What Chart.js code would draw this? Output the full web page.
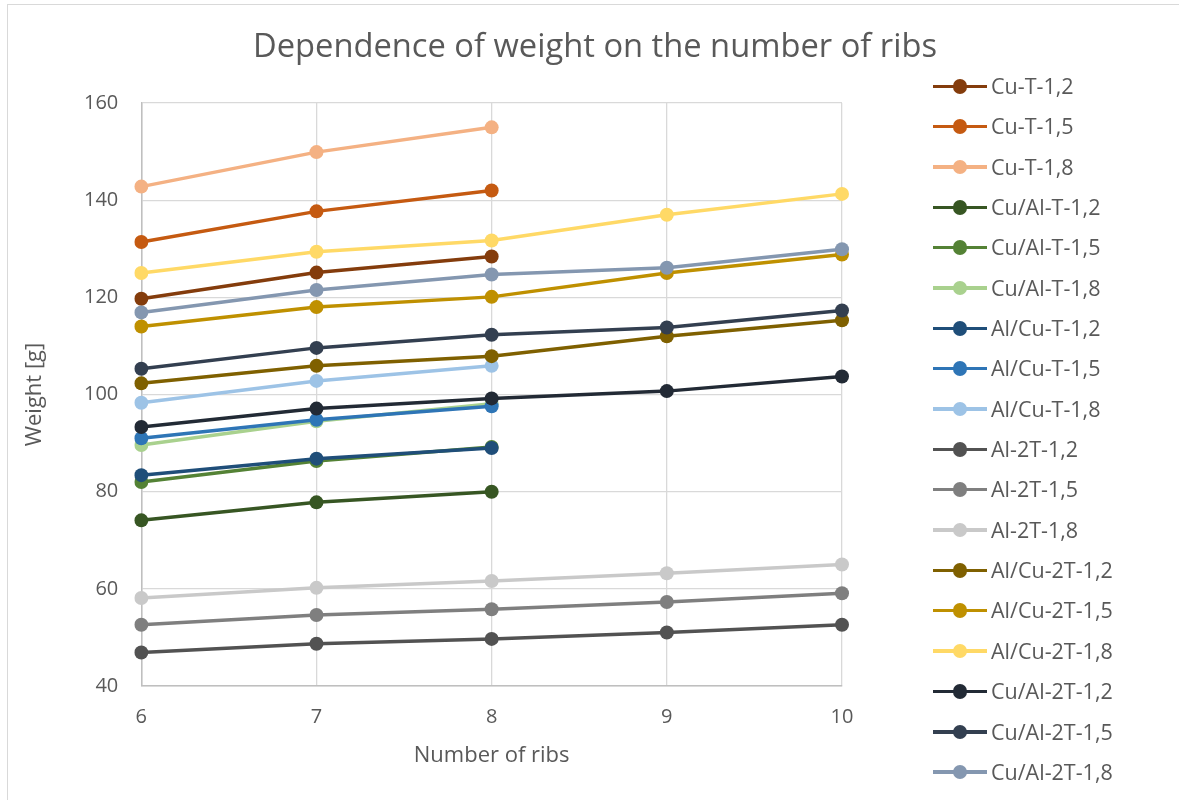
<!DOCTYPE html>
<html lang="en">
    <head>
        <meta charset="UTF-8" />
        <title>Dependence of weight on the number of ribs</title>
        <script src="https://cdn.jsdelivr.net/npm/chart.js"></script>
        <style>
            body { margin: 0; background: #fff; }
            .wrap { position: relative; width: 1179px; height: 800px; overflow: hidden; }
            .frame {
                position: absolute; left: 7px; top: 4px; width: 1200px; height: 830px;
                border: 1px solid #d9d9d9; pointer-events: none;
            }
            #chartLegend {
                position: absolute; left: 933px; top: 66px;
                font-family: "Open Sans", sans-serif; font-size: 21.5px; color: #595959;
            }
            #chartLegend .item { position: relative; height: 40.35px; line-height: 40px; padding-left: 58px; white-space: nowrap; }
            #chartLegend .line { position: absolute; left: 0; top: 18.5px; width: 54px; height: 3.5px; }
            #chartLegend .dot { position: absolute; left: 19.5px; top: 13px; width: 14.5px; height: 14.5px; border-radius: 50%; }
        </style>
    </head>
    <body>
        <div class="wrap">
            <canvas id="ribsChart" width="1179" height="800"></canvas>
            <div id="chartLegend"></div>
            <div class="frame"></div>
        </div>

        <script>
            // number of ribs
            const ribs = ['6', '7', '8', '9', '10'];

            const seriesNames = [
                'Cu-T-1,2', 'Cu-T-1,5', 'Cu-T-1,8',
                'Cu/Al-T-1,2', 'Cu/Al-T-1,5', 'Cu/Al-T-1,8',
                'Al/Cu-T-1,2', 'Al/Cu-T-1,5', 'Al/Cu-T-1,8',
                'Al-2T-1,2', 'Al-2T-1,5', 'Al-2T-1,8',
                'Al/Cu-2T-1,2', 'Al/Cu-2T-1,5', 'Al/Cu-2T-1,8',
                'Cu/Al-2T-1,2', 'Cu/Al-2T-1,5', 'Cu/Al-2T-1,8'
            ];

            // weight [g]
            const cuT12 = [119.7, 125.1, 128.4];
            const cuT15 = [131.4, 137.7, 142.0];
            const cuT18 = [142.8, 149.9, 155.0];
            const cuAlT12 = [74.1, 77.8, 80.0];
            const cuAlT15 = [82.0, 86.3, 89.2];
            const cuAlT18 = [89.6, 94.5, 98.1];
            const alCuT12 = [83.4, 86.8, 89.0];
            const alCuT15 = [91.0, 94.8, 97.6];
            const alCuT18 = [98.3, 102.8, 105.9];
            const al2T12 = [46.9, 48.7, 49.7, 51.0, 52.6];
            const al2T15 = [52.6, 54.6, 55.8, 57.3, 59.1];
            const al2T18 = [58.1, 60.2, 61.6, 63.2, 65.0];
            const alCu2T12 = [102.3, 105.9, 107.9, 112.0, 115.3];
            const alCu2T15 = [114.0, 118.0, 120.1, 125.0, 128.8];
            const alCu2T18 = [125.0, 129.4, 131.7, 137.0, 141.3];
            const cuAl2T12 = [93.3, 97.1, 99.2, 100.7, 103.7];
            const cuAl2T15 = [105.3, 109.6, 112.3, 113.8, 117.3];
            const cuAl2T18 = [116.9, 121.5, 124.7, 126.1, 129.9];

            const allValues = [
                cuT12, cuT15, cuT18,
                cuAlT12, cuAlT15, cuAlT18,
                alCuT12, alCuT15, alCuT18,
                al2T12, al2T15, al2T18,
                alCu2T12, alCu2T15, alCu2T18,
                cuAl2T12, cuAl2T15, cuAl2T18
            ];

            const colors = [
                '#843C0C', '#C55A11', '#F4B183',
                '#375623', '#548235', '#A9D18E',
                '#1F4E79', '#2E75B6', '#9DC3E6',
                '#525252', '#7F7F7F', '#C9C9C9',
                '#7F6000', '#BF9000', '#FFD966',
                '#222A35', '#333F50', '#8497B0'
            ];

            const textColor = '#595959';
            const fontFamily = '"Open Sans", sans-serif';

            // html legend, built from the chart's own datasets
            const htmlLegend = {
                id: 'htmlLegend',
                afterUpdate(chart) {
                    const box = document.getElementById('chartLegend');
                    box.innerHTML = '';
                    chart.data.datasets.forEach(ds => {
                        const item = document.createElement('div');
                        item.className = 'item';
                        const line = document.createElement('span');
                        line.className = 'line';
                        line.style.background = ds.borderColor;
                        const dot = document.createElement('span');
                        dot.className = 'dot';
                        dot.style.background = ds.borderColor;
                        item.appendChild(line);
                        item.appendChild(dot);
                        item.appendChild(document.createTextNode(ds.label));
                        box.appendChild(item);
                    });
                }
            };

            const n = seriesNames.length;
            const datasets = seriesNames.map((name, i) => ({
                label: name,
                data: allValues[i],
                borderColor: colors[i],
                backgroundColor: colors[i],
                pointBackgroundColor: colors[i],
                pointBorderColor: colors[i],
                borderWidth: 3.5,
                pointRadius: 7,
                pointBorderWidth: 0,
                pointHoverRadius: 7,
                order: n - i // later series on top, like excel
            }));

            const ctx = document.getElementById('ribsChart').getContext('2d');
            const ribsChart = new Chart(ctx, {
                type: 'line',
                data: { labels: ribs, datasets: datasets },
                options: {
                    responsive: false,
                    animation: false,
                    events: [],
                    layout: { padding: { top: 0, right: 0, bottom: 28, left: 11 } },
                    plugins: {
                        legend: { display: false },
                        tooltip: { enabled: false },
                        title: {
                            display: true,
                            text: 'Dependence of weight on the number of ribs',
                            color: textColor,
                            font: { family: fontFamily, size: 32.7, weight: 'normal' },
                            padding: { top: 28.4, bottom: 35.4 }
                        }
                    },
                    scales: {
                        x: {
                            offset: false,
                            grid: { color: '#d9d9d9', lineWidth: 1.3, drawTicks: false },
                            border: { color: '#bfbfbf', width: 1.5 },
                            ticks: {
                                color: textColor, padding: 21,
                                font: { family: fontFamily, size: 20, lineHeight: 1 }
                            },
                            title: {
                                display: true, text: 'Number of ribs', color: textColor,
                                font: { family: fontFamily, size: 22 },
                                padding: { top: -5.2, bottom: 2.8 }
                            }
                        },
                        y: {
                            min: 40,
                            max: 160,
                            grid: { color: '#d9d9d9', lineWidth: 1.3, drawTicks: false },
                            border: { color: '#bfbfbf', width: 1.5 },
                            ticks: {
                                stepSize: 20, color: textColor, padding: 23,
                                font: { family: fontFamily, size: 20 }
                            },
                            title: {
                                display: true, text: 'Weight [g]', color: textColor,
                                font: { family: fontFamily, size: 22 },
                                padding: { top: 11, bottom: 12.6 }
                            }
                        },
                        // empty axis that keeps room for the legend on the right
                        legendSpace: {
                            position: 'right',
                            grid: { display: false },
                            border: { display: false },
                            ticks: { display: false },
                            afterFit(scale) { scale.width = 337; }
                        }
                    }
                },
                plugins: [htmlLegend]
            });
        </script>
    </body>
</html>
